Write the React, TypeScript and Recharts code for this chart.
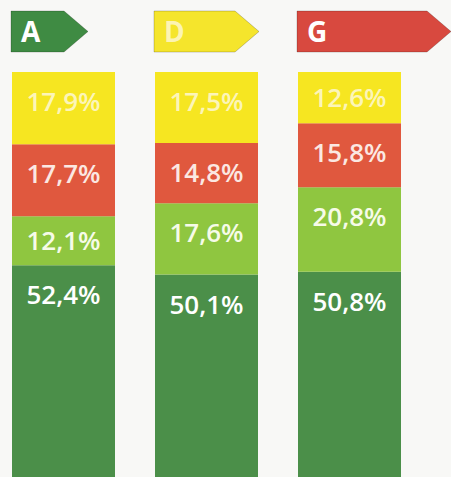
import { BarChart, Bar, XAxis, YAxis, LabelList } from "recharts";

// energy classes, left to right
const classes = ["A", "D", "G"];

// shares per class, bottom of the stack to top
const darkGreen = [52.4, 50.1, 50.8];
const lightGreen = [12.1, 17.6, 20.8];
const red = [17.7, 14.8, 15.8];
const yellow = [17.9, 17.5, 12.6];

const data = classes.map((c, i) => ({
  cls: c,
  darkGreen: darkGreen[i],
  lightGreen: lightGreen[i],
  red: red[i],
  yellow: yellow[i],
}));

const BAR = 103;
const FONT = "'Open Sans', 'Noto Sans', sans-serif";

const arrowStyle: Record<string, { fill: string; text: string; len: number }> = {
  A: { fill: "#3f8b43", text: "#ffffff", len: 77 },
  D: { fill: "#f5e52c", text: "#fcf4b4", len: 105 },
  G: { fill: "#d8493f", text: "#ffffff", len: 154 },
};

const series = [
  { key: "darkGreen", fill: "#4b8f49", text: "#ffffff" },
  { key: "lightGreen", fill: "#8fc640", text: "#f6fbe8" },
  { key: "red", fill: "#e0583e", text: "#fbe8e2" },
  { key: "yellow", fill: "#f6e621", text: "#fcf5b8" },
];

const fmt = (v: number) => v.toFixed(1).replace(".", ",") + "%";

function ArrowTick(props: any) {
  const { x, y, payload } = props;
  const st = arrowStyle[payload.value];
  if (!st) return null;
  const left = x - BAR / 2 - 1;
  const bottom = y - 20;
  const top = bottom - 41;
  const tip = 24;
  const right = left + st.len;
  const mid = (top + bottom) / 2;
  const d = `M${left},${top} L${right - tip},${top} L${right},${mid} L${right - tip},${bottom} L${left},${bottom} Z`;
  return (
    <g>
      <path d={d} fill={st.fill} stroke="rgba(0,0,0,0.25)" strokeWidth={0.8} />
      <text
        x={left + 10}
        y={mid + 10}
        fill={st.text}
        fontSize={28}
        fontWeight={700}
        fontFamily={FONT}
        textAnchor="start"
      >
        {payload.value}
      </text>
    </g>
  );
}

function segLabel(color: string) {
  return (props: any) => {
    const { x, y, width, height, value } = props;
    if (value == null) return null;
    const cy = y + Math.min(30, height / 2);
    return (
      <text
        x={x + width / 2}
        y={cy + 9}
        fill={color}
        fontSize={26}
        fontWeight={600}
        fontFamily={FONT}
        textAnchor="middle"
      >
        {fmt(value)}
      </text>
    );
  };
}

export default function App() {
  return (
    <div style={{ position: "absolute", left: 0, top: 0, width: 451, height: 477, background: "#f8f8f6", overflow: "hidden" }}>
      <BarChart
        width={451}
        height={477}
        data={data}
        margin={{ top: 0, right: 30, bottom: -1, left: -8 }}
        barSize={BAR}
      >
        <XAxis
          dataKey="cls"
          orientation="top"
          height={72}
          axisLine={false}
          tickLine={false}
          tickSize={0}
          tickMargin={0}
          interval={0}
          tick={<ArrowTick />}
        />
        <YAxis hide domain={[0, 100]} allowDataOverflow />
        {series.map((s) => (
          <Bar key={s.key} dataKey={s.key} stackId="a" fill={s.fill} isAnimationActive={false}>
            <LabelList dataKey={s.key} content={segLabel(s.text)} />
          </Bar>
        ))}
      </BarChart>
    </div>
  );
}
